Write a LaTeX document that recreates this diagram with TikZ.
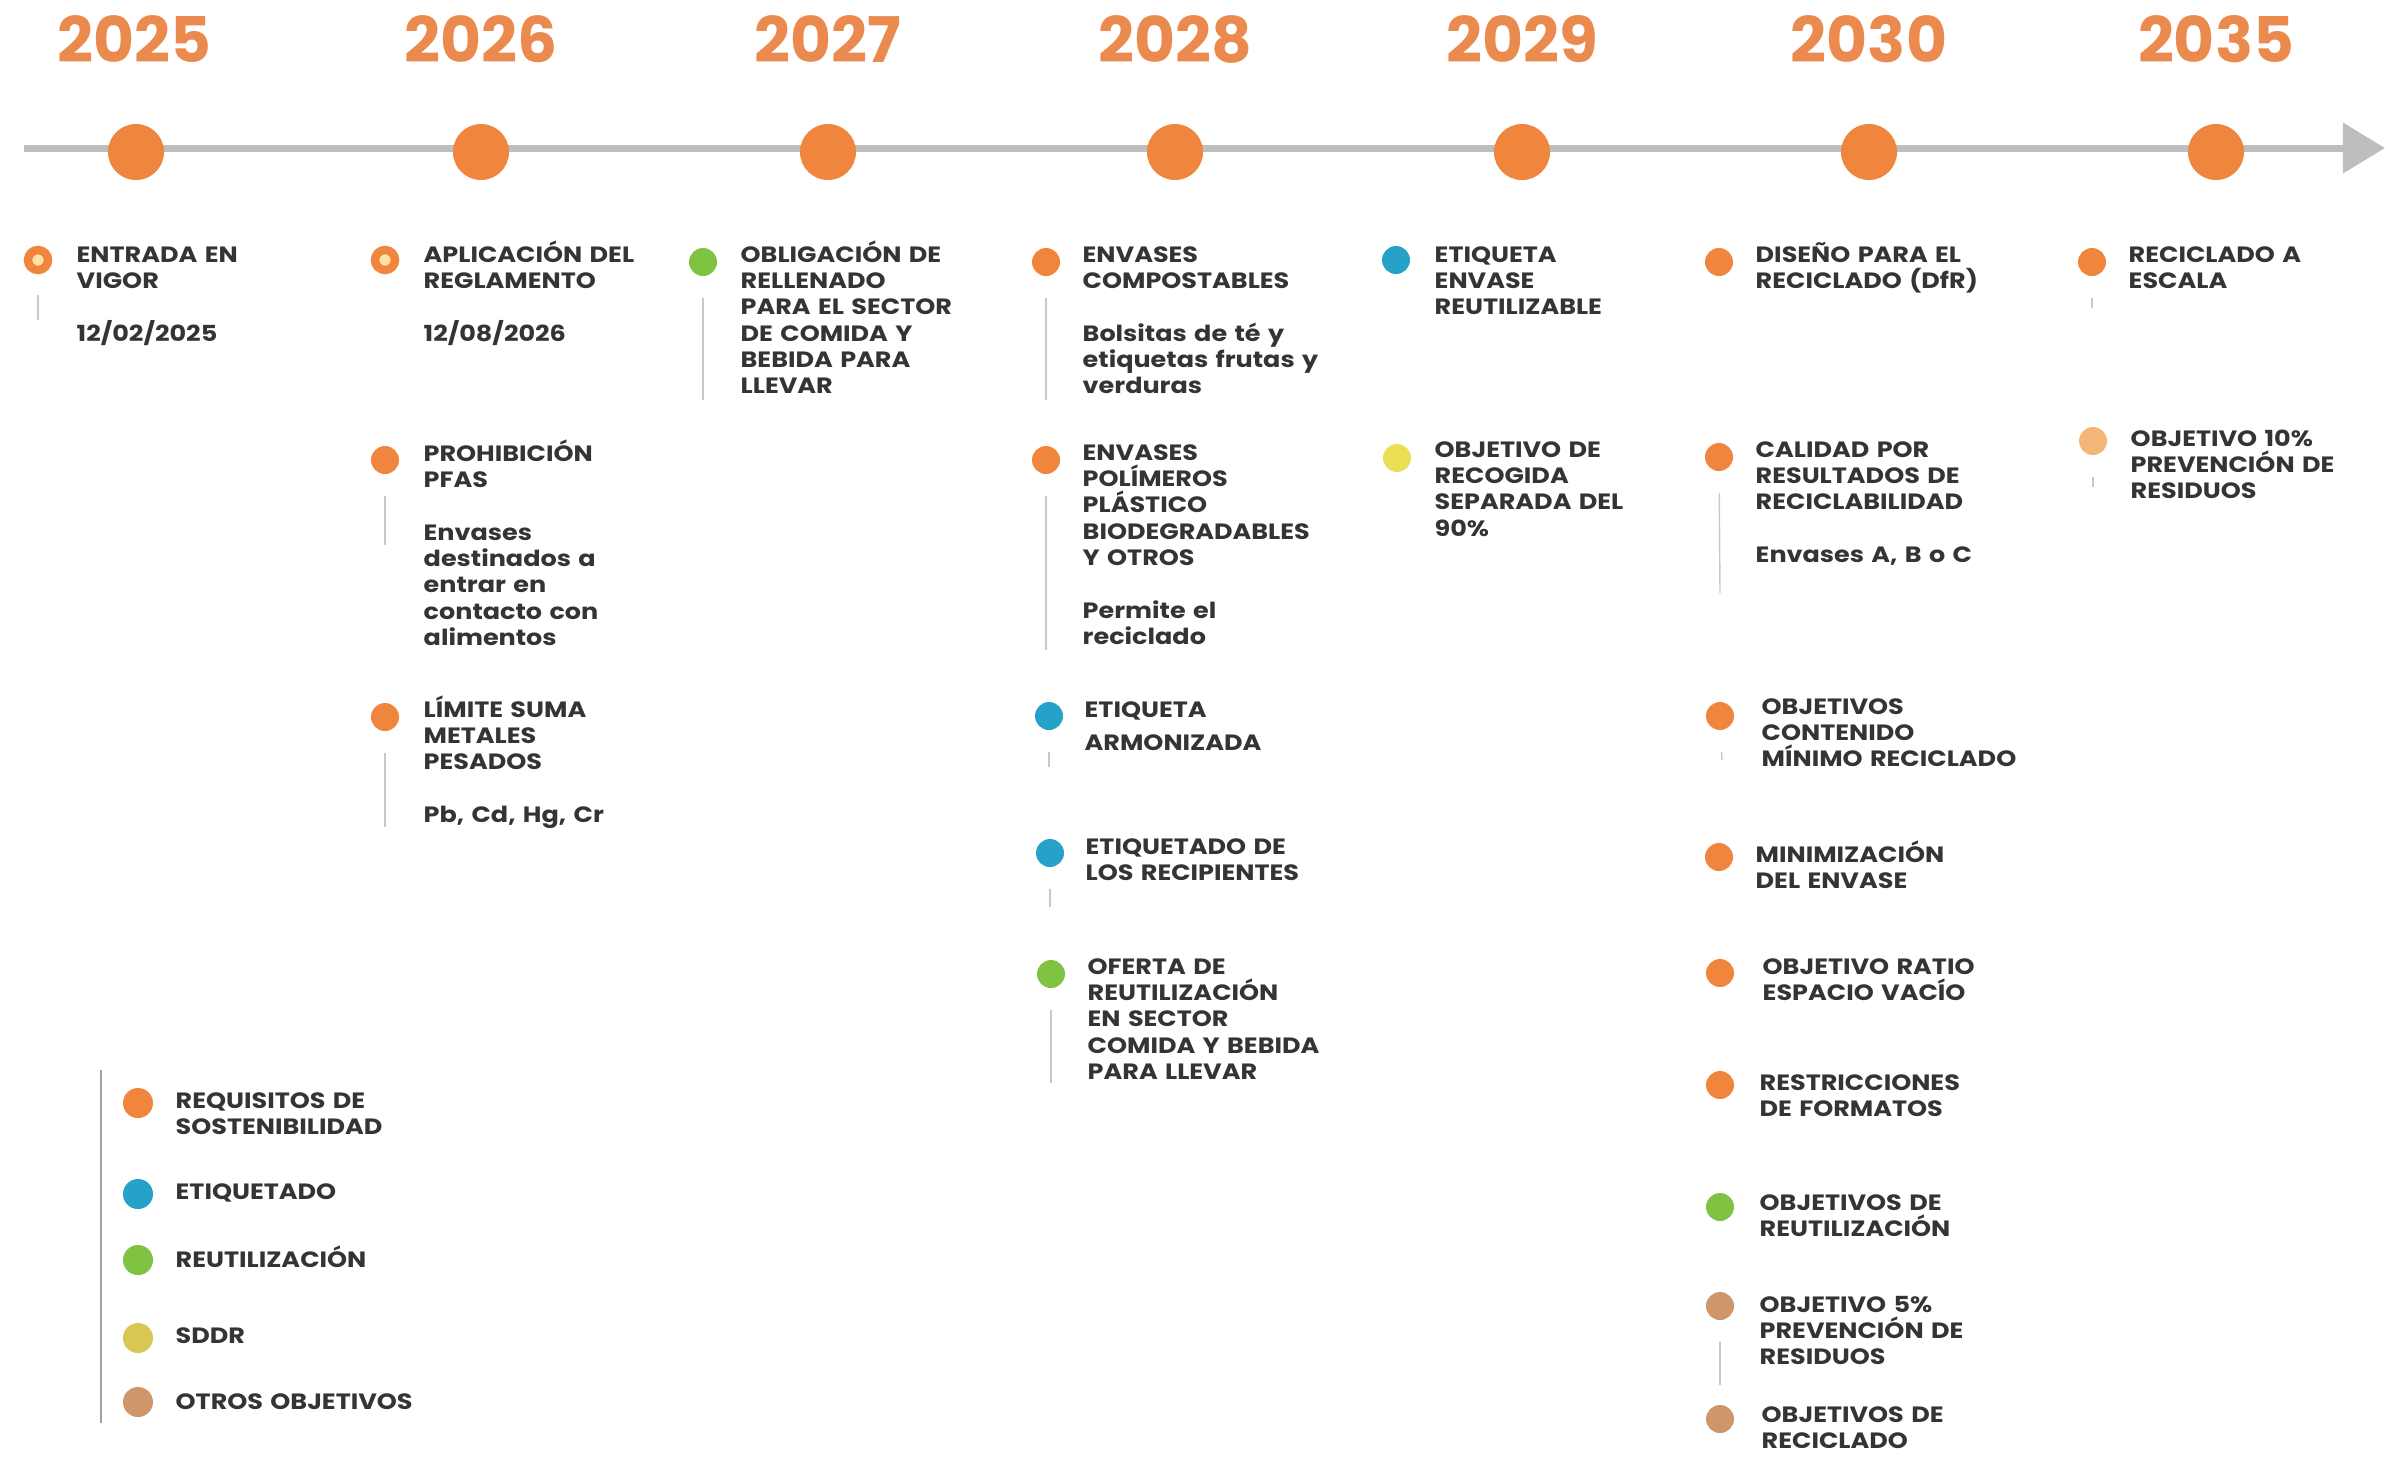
\documentclass[tikz,border=0pt]{standalone}
\usepackage{fontspec}
\setmainfont{Poppins}
\newfontfamily\ecofont{Poppins}[FakeStretch=1.15]
\usetikzlibrary{arrows.meta,positioning}
\definecolor{ecoorange}{RGB}{240,134,62}
\definecolor{ecoyear}{RGB}{234,138,78}
\definecolor{ecoblue}{RGB}{38,162,200}
\definecolor{ecogreen}{RGB}{128,194,66}
\definecolor{ecoyellow}{RGB}{236,222,84}
\definecolor{ecosddr}{RGB}{218,198,82}
\definecolor{ecotan}{RGB}{206,150,106}
\definecolor{ecopeach}{RGB}{243,182,118}
\definecolor{ecocream}{RGB}{255,226,170}
\definecolor{ecotext}{RGB}{52,52,52}
\definecolor{ecoaxis}{RGB}{190,190,190}
\definecolor{ecostem}{RGB}{200,200,200}
\tikzset{x=0.01cm, y=-0.01cm, % One unit is one pixel of the reference, y pointing down
        bigdot/.style={circle, fill=ecoorange, minimum size=0.56cm, inner sep=0pt},
        year/.style={anchor=base, text=ecoyear, font=\fontsize{17.9}{20}\selectfont\bfseries},
        evdot/.style={circle, fill=#1, minimum size=0.28cm, inner sep=0pt},
        ringdot/.style={circle, fill=ecocream, draw=ecoorange, line width=2.4pt,
            minimum size=0.2cm, inner sep=0pt},
        legdot/.style={circle, fill=#1, minimum size=0.3cm, inner sep=0pt},
        txt/.style={anchor=base west, text width=2.8cm, % Coordinate is the first baseline
            align=left, inner sep=0pt, text=ecotext,
            font=\fontsize{6.3}{7.5}\selectfont\ecofont\bfseries},
        stem/.style={draw=ecostem, line width=0.4pt, shorten <=6pt}, % Thin line under a dot
        legline/.style={draw=ecostem!80!black, line width=0.5pt},
        axis/.style={draw=ecoaxis, line width=2pt, -{Triangle[length=12pt,width=14pt]}}
        }
\begin{document}
\begin{tikzpicture}
    \useasboundingbox (0,0) rectangle (2387,1459);

    % time axis
    \coordinate (tl0) at (24,148);
    \coordinate (tl1) at (2385,148);
    \draw[axis] (tl0) -- (tl1);

    \node[bigdot] (y25) at (136,152) {};
    \node[bigdot] (y26) at (481,152) {};
    \node[bigdot] (y27) at (828,152) {};
    \node[bigdot] (y28) at (1175,152) {};
    \node[bigdot] (y29) at (1522,152) {};
    \node[bigdot] (y30) at (1869,152) {};
    \node[bigdot] (y35) at (2216,152) {};

    \node[year] (n25) at (134,62) {2025};
    \node[year] (n26) at (481,62) {2026};
    \node[year] (n27) at (828,62) {2027};
    \node[year] (n28) at (1175,62) {2028};
    \node[year] (n29) at (1522,62) {2029};
    \node[year] (n30) at (1869,62) {2030};
    \node[year] (n35) at (2216,62) {2035};

    % 2025
    \node[ringdot] (d25a) at (38,260) {};
    \node[txt] (t25a) at (76,262) {ENTRADA EN\\VIGOR\\[7.5pt]12/02/2025};
    \coordinate (e25a) at (38,320);
    \draw[stem] (d25a) -- (e25a);

    % 2026
    \node[ringdot] (d26a) at (385,260) {};
    \node[txt] (t26a) at (423,262) {APLICACIÓN DEL\\REGLAMENTO\\[7.5pt]12/08/2026};
    \node[evdot=ecoorange] (d26b) at (385,460) {};
    \node[txt] (t26b) at (423,461) {PROHIBICIÓN\\PFAS\\[7.5pt]Envases\\destinados a\\entrar en\\contacto con\\alimentos};
    \node[evdot=ecoorange] (d26c) at (385,717) {};
    \node[txt] (t26c) at (423,717) {LÍMITE SUMA\\METALES\\PESADOS\\[7.5pt]Pb, Cd, Hg, Cr};
    \coordinate (e26b) at (385,545);
    \coordinate (e26c) at (385,827);
    \draw[stem] (d26b) -- (e26b);
    \draw[stem] (d26c) -- (e26c);

    % 2027
    \node[evdot=ecogreen] (d27a) at (703,262) {};
    \node[txt] (t27a) at (740,262) {OBLIGACIÓN DE\\RELLENADO\\PARA EL SECTOR\\DE COMIDA Y\\BEBIDA PARA\\LLEVAR};
    \coordinate (e27a) at (703,400);
    \draw[stem] (d27a) -- (e27a);

    % 2028
    \node[evdot=ecoorange] (d28a) at (1046,262) {};
    \node[txt] (t28a) at (1082,262) {ENVASES\\COMPOSTABLES\\[7.5pt]Bolsitas de té y\\etiquetas frutas y\\verduras};
    \node[evdot=ecoorange] (d28b) at (1046,460) {};
    \node[txt] (t28b) at (1082,460) {ENVASES\\POLÍMEROS\\PLÁSTICO\\BIODEGRADABLES\\Y OTROS\\[7.5pt]Permite el\\reciclado};
    \node[evdot=ecoblue] (d28c) at (1049,716) {};
    \node[txt] (t28c) at (1084,717) {ETIQUETA\\[2pt]ARMONIZADA};
    \node[evdot=ecoblue] (d28d) at (1050,853) {};
    \node[txt] (t28d) at (1085,854) {ETIQUETADO DE\\LOS RECIPIENTES};
    \node[evdot=ecogreen] (d28e) at (1051,974) {};
    \node[txt] (t28e) at (1087,974) {OFERTA DE\\REUTILIZACIÓN\\EN SECTOR\\COMIDA Y BEBIDA\\PARA LLEVAR};
    \coordinate (e28a) at (1046,400);
    \coordinate (e28b) at (1046,650);
    \coordinate (e28c) at (1049,767);
    \coordinate (e28d) at (1050,907);
    \coordinate (e28e) at (1051,1083);
    \draw[stem] (d28a) -- (e28a);
    \draw[stem] (d28b) -- (e28b);
    \draw[stem] (d28c) -- (e28c);
    \draw[stem] (d28d) -- (e28d);
    \draw[stem] (d28e) -- (e28e);

    % 2029
    \node[evdot=ecoblue] (d29a) at (1396,260) {};
    \node[txt] (t29a) at (1434,262) {ETIQUETA\\ENVASE\\REUTILIZABLE};
    \node[evdot=ecoyellow] (d29b) at (1397,458) {};
    \node[txt] (t29b) at (1434,457) {OBJETIVO DE\\RECOGIDA\\SEPARADA DEL\\90\%};

    % 2030
    \node[evdot=ecoorange] (d30a) at (1719,262) {};
    \node[txt] (t30a) at (1755,262) {DISEÑO PARA EL\\RECICLADO (DfR)};
    \node[evdot=ecoorange] (d30b) at (1719,457) {};
    \node[txt] (t30b) at (1755,457) {CALIDAD POR\\RESULTADOS DE\\RECICLABILIDAD\\[7.5pt]Envases A, B o C};
    \node[evdot=ecoorange] (d30c) at (1720,716) {};
    \node[txt] (t30c) at (1761,714) {OBJETIVOS\\CONTENIDO\\MÍNIMO RECICLADO};
    \node[evdot=ecoorange] (d30d) at (1719,857) {};
    \node[txt] (t30d) at (1755,862) {MINIMIZACIÓN\\DEL ENVASE};
    \node[evdot=ecoorange] (d30e) at (1720,973) {};
    \node[txt] (t30e) at (1762,974) {OBJETIVO RATIO\\ESPACIO VACÍO};
    \node[evdot=ecoorange] (d30f) at (1720,1085) {};
    \node[txt] (t30f) at (1759,1090) {RESTRICCIONES\\DE FORMATOS};
    \node[evdot=ecogreen] (d30g) at (1720,1207) {};
    \node[txt] (t30g) at (1759,1210) {OBJETIVOS DE\\REUTILIZACIÓN};
    \node[evdot=ecotan] (d30h) at (1720,1306) {};
    \node[txt] (t30h) at (1759,1312) {OBJETIVO 5\%\\PREVENCIÓN DE\\RESIDUOS};
    \node[evdot=ecotan] (d30i) at (1720,1419) {};
    \node[txt] (t30i) at (1761,1422) {OBJETIVOS DE\\RECICLADO};
    \coordinate (e30b) at (1720,593);
    \coordinate (e30c) at (1722,760);
    \coordinate (e30h) at (1720,1385);
    \draw[stem] (d30b) -- (e30b);
    \draw[stem] (d30c) -- (e30c);
    \draw[stem] (d30h) -- (e30h);

    % 2035
    \node[evdot=ecoorange] (d35a) at (2092,262) {};
    \node[txt] (t35a) at (2128,262) {RECICLADO A\\ESCALA};
    \node[evdot=ecopeach] (d35b) at (2093,441) {};
    \node[txt] (t35b) at (2130,446) {OBJETIVO 10\%\\PREVENCIÓN DE\\RESIDUOS};
    \coordinate (e35a) at (2092,308);
    \coordinate (e35b) at (2093,487);
    \draw[stem] (d35a) -- (e35a);
    \draw[stem] (d35b) -- (e35b);

    % legend
    \coordinate (lg0) at (101,1070);
    \coordinate (lg1) at (101,1423);
    \draw[legline] (lg0) -- (lg1);
    \node[legdot=ecoorange] (k1) at (138,1103) {};
    \node[txt] (k1t) at (175,1108) {REQUISITOS DE\\SOSTENIBILIDAD};
    \node[legdot=ecoblue] (k2) at (138,1194) {};
    \node[txt] (k2t) at (175,1199) {ETIQUETADO};
    \node[legdot=ecogreen] (k3) at (138,1260) {};
    \node[txt] (k3t) at (175,1267) {REUTILIZACIÓN};
    \node[legdot=ecosddr] (k4) at (138,1338) {};
    \node[txt] (k4t) at (175,1343) {SDDR};
    \node[legdot=ecotan] (k5) at (138,1402) {};
    \node[txt] (k5t) at (175,1409) {OTROS OBJETIVOS};
\end{tikzpicture}
\end{document}
